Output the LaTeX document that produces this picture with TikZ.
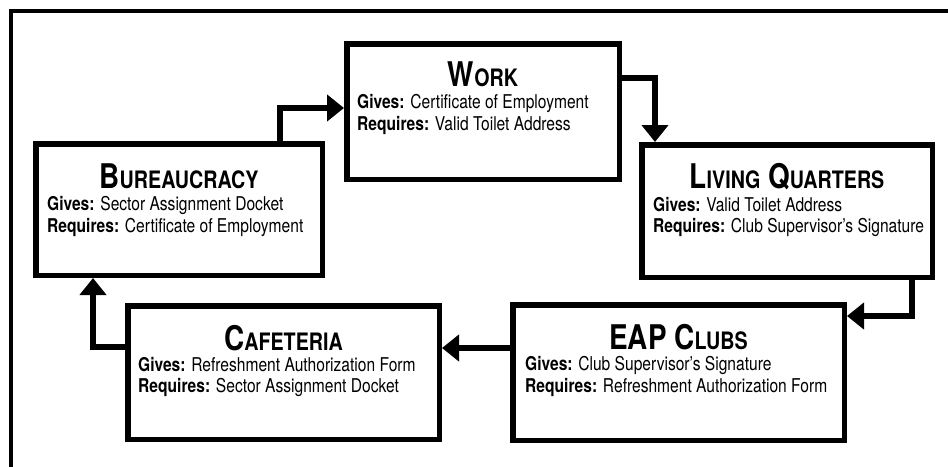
\documentclass[tikz,border=0pt]{standalone}
\usepackage{fontspec}
\setmainfont{TeX Gyre Heros}[FakeStretch=0.82]
\usetikzlibrary{arrows.meta,calc}
\newcommand\bodysz{\fontsize{19}{21}\selectfont}
\newcommand\tbig[1]{{\fontsize{34}{34}\selectfont #1}}
\newcommand\tsm[1]{{\fontsize{24}{24}\selectfont #1}}
\tikzset{
  box/.style={draw, line width=5.5pt, inner sep=0pt, anchor=north west},
  ttl/.style={anchor=base, inner sep=0pt, font=\bfseries},
  bodyline/.style={anchor=base west, inner sep=0pt, font=\bodysz},
  arr/.style={line width=5.5pt, line join=miter, -{Triangle[width=26pt,length=17pt]}}
}
\begin{document}
\begin{tikzpicture}[x=1pt,y=-1pt]
\useasboundingbox (0,0) rectangle (948,466);
% frame
\draw[line width=4.4pt] (952,11) -- (11,11) -- (11,470);
% boxes
\node[box, minimum width=272.5pt, minimum height=135.5pt] (work) at (344,41) {};
\node[box, minimum width=286.5pt, minimum height=131.5pt] (bur) at (33,141) {};
\node[box, minimum width=290.5pt, minimum height=132.5pt] (lq) at (639,142) {};
\node[box, minimum width=331.5pt, minimum height=135.5pt] (eap) at (510,302) {};
\node[box, minimum width=311.5pt, minimum height=133.5pt] (caf) at (125,303) {};
% texts
\node[ttl] (workt) at ($(work.north)+(0,45)$) {\tbig{W}\tsm{ORK}};
\node[bodyline] (workg) at ($(work.north west)+(13,67)$) {\textbf{Gives:} Certificate of Employment};
\node[bodyline] (workr) at ($(work.north west)+(13,89)$) {\textbf{Requires:} Valid Toilet Address};
\node[ttl] (burt) at ($(bur.north)+(0,47)$) {\tbig{B}\tsm{UREAUCRACY}};
\node[bodyline] (burg) at ($(bur.north west)+(14,69)$) {\textbf{Gives:} Sector Assignment Docket};
\node[bodyline] (burr) at ($(bur.north west)+(14,91)$) {\textbf{Requires:} Certificate of Employment};
\node[ttl] (lqt) at ($(lq.north)+(0,46)$) {\tbig{L}\tsm{IVING}\tbig{ }\tbig{Q}\tsm{UARTERS}};
\node[bodyline] (lqg) at ($(lq.north west)+(14,69)$) {\textbf{Gives:} Valid Toilet Address};
\node[bodyline] (lqr) at ($(lq.north west)+(14,90)$) {\textbf{Requires:} Club Supervisor’s Signature};
\node[ttl] (eapt) at ($(eap.north)+(0,47)$) {\tbig{EAP C}\tsm{LUBS}};
\node[bodyline] (eapg) at ($(eap.north west)+(15,68)$) {\textbf{Gives:} Club Supervisor’s Signature};
\node[bodyline] (eapr) at ($(eap.north west)+(15,90)$) {\textbf{Requires:} Refreshment Authorization Form};
\node[ttl] (caft) at ($(caf.north)+(0,47)$) {\tbig{C}\tsm{AFETERIA}};
\node[bodyline] (cafg) at ($(caf.north west)+(13,68)$) {\textbf{Gives:} Refreshment Authorization Form};
\node[bodyline] (cafr) at ($(caf.north west)+(13,89)$) {\textbf{Requires:} Sector Assignment Docket};
% connectors
\draw[arr] ($(bur.north west)+(247,0)$) |- ($(work.north west)+(0,67)$);
\draw[arr] ($(work.north east)+(0,37)$) -| ($(lq.north west)+(16,0)$);
\draw[arr] ($(lq.south east)+(-23,0)$) |- ($(eap.north east)+(0,14)$);
\draw[arr] ($(eap.north west)+(0,46)$) coordinate (p) -- (caf.east |- p);
\draw[arr] ($(caf.north west)+(0,44)$) -| ($(bur.south west)+(60,0)$);
\end{tikzpicture}
\end{document}
